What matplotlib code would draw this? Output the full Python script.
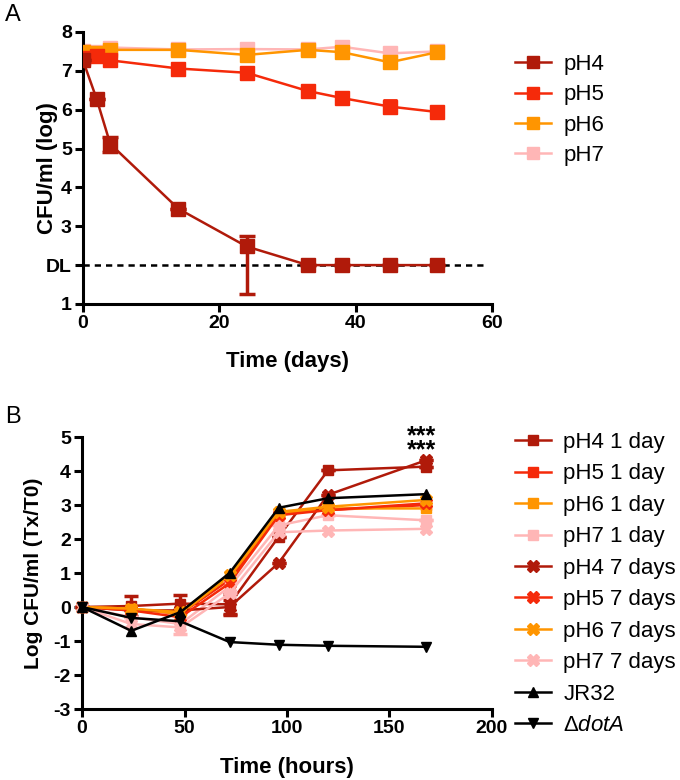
import numpy as np
import matplotlib
matplotlib.use('Agg')
import matplotlib.pyplot as plt
from matplotlib.lines import Line2D

plt.rcParams['font.family'] = ['Liberation Sans', 'DejaVu Sans']
plt.rcParams['mathtext.fontset'] = 'custom'
plt.rcParams['mathtext.rm'] = 'Liberation Sans'
plt.rcParams['mathtext.it'] = 'Liberation Sans:italic'

# Panel A data: survival at different pH over days
days = [0, 2, 4, 14, 24, 33, 38, 45, 52]
ph4_a = [7.27, 6.28, 5.12, 3.45, 2.48, 2.0, 2.0, 2.0, 2.0]
ph4_a_err_lo = [0, 0, 0.22, 0, 1.23, 0, 0, 0, 0]
ph4_a_err_hi = [0, 0, 0.18, 0, 0.28, 0, 0, 0, 0]
ph5_a = [7.32, 7.37, 7.27, 7.06, 6.95, 6.48, 6.30, 6.08, 5.94]
ph5_a_err = [0, 0, 0, 0, 0, 0, 0, 0.16, 0]
ph6_a = [7.49, 7.46, 7.54, 7.54, 7.41, 7.54, 7.48, 7.22, 7.48]
ph7_a = [7.50, 7.48, 7.60, 7.55, 7.56, 7.55, 7.62, 7.45, 7.50]
detection_limit = 2.0

# Panel B data: intracellular growth after pH exposure
hours = [0, 24, 48, 72, 96, 120, 168]
ph4_1d = [0, 0.03, 0.1, 0.08, 2.07, 4.02, 4.13]
ph4_1d_err = [0, 0.3, 0.25, 0.3, 0, 0, 0]
ph5_1d = [0, -0.05, -0.2, 0.8, 2.75, 2.85, 3.0]
ph6_1d = [0, -0.05, -0.2, 0.9, 2.75, 2.9, 2.9]
ph7_1d = [0, -0.3, -0.5, 0.6, 2.4, 2.7, 2.55]
ph7_1d_err = [0, 0, 0.3, 0.2, 0, 0, 0]
ph4_7d = [0, -0.1, -0.1, 0.0, 1.3, 3.3, 4.32]
ph4_7d_err = [0, 0, 0, 0.2, 0, 0, 0]
ph5_7d = [0, -0.1, -0.3, 0.7, 2.7, 2.85, 3.05]
ph6_7d = [0, -0.05, -0.15, 0.95, 2.8, 2.95, 3.15]
ph7_7d = [0, -0.5, -0.6, 0.4, 2.2, 2.25, 2.3]
jr32 = [0, -0.7, -0.15, 1.0, 2.92, 3.2, 3.32]
dota = [0, -0.32, -0.42, -1.03, -1.11, -1.14, -1.17]

c4 = '#B01A0A'
c5 = '#F52A0A'
c6 = '#FF9500'
c7 = '#FFB6B6'

fig = plt.figure(figsize=(6.8, 7.8), dpi=100)
ax1 = fig.add_axes([0.122, 0.6103, 0.6015, 0.3487])
ax2 = fig.add_axes([0.1206, 0.091, 0.6029, 0.3487])


def style_axis(ax):
    for s in ['top', 'right']:
        ax.spines[s].set_visible(False)
    for s in ['left', 'bottom']:
        ax.spines[s].set_linewidth(2.2)
    ax.tick_params(width=2.2, length=6, pad=2)


def leg_handle(col, mk, m):
    return Line2D([], [], color=col, marker=mk, ms=m, lw=1.8)


# Panel A
lw = 1.8
ms = 10
ax1.plot([0, 59], [detection_limit, detection_limit], color='black', ls=(0, (2.5, 2)),
         lw=1.8, zorder=1)
ax1.plot(days, ph7_a, color=c7, marker='s', ms=ms, lw=lw, zorder=2)
ax1.plot(days, ph6_a, color=c6, marker='s', ms=ms, lw=lw, zorder=3)
ax1.errorbar(days, ph5_a, yerr=ph5_a_err, color=c5, marker='s', ms=ms, lw=lw,
             capsize=5, capthick=2, elinewidth=2, zorder=4)
ax1.errorbar(days, ph4_a, yerr=[ph4_a_err_lo, ph4_a_err_hi], color=c4, marker='s', ms=ms,
             lw=lw, capsize=6, capthick=2.5, elinewidth=2.5, zorder=5)
ax1.set_xlim(0, 60)
ax1.set_ylim(1, 8)
ax1.set_xticks([0, 20, 40, 60], ['0', '20', '40', '60'], fontsize=14, fontweight='bold')
ax1.set_yticks([1, 2, 3, 4, 5, 6, 7, 8], ['1', 'DL', '3', '4', '5', '6', '7', '8'],
               fontsize=14, fontweight='bold')
ax1.set_xlabel('Time (days)', fontsize=16, fontweight='bold')
ax1.set_ylabel('CFU/ml (log)', fontsize=16, fontweight='bold')
ax1.yaxis.set_label_coords(-0.062, 0.5)
ax1.xaxis.set_label_coords(0.5, -0.172)
style_axis(ax1)
leg_a = [leg_handle(c, 's', 8) for c in [c4, c5, c6, c7]]
fig.legend(leg_a, ['pH4', 'pH5', 'pH6', 'pH7'], loc='upper left',
           bbox_to_anchor=(0.745, 0.942), frameon=False, fontsize=16,
           handlelength=1.6, handletextpad=0.55, labelspacing=0.42, borderaxespad=0)

# Panel B
lwb = 1.8
msb = 7
series_b = [
    (ph4_1d, ph4_1d_err, c4, 's', 'pH4 1 day'),
    (ph5_1d, None, c5, 's', 'pH5 1 day'),
    (ph6_1d, None, c6, 's', 'pH6 1 day'),
    (ph7_1d, ph7_1d_err, c7, 's', 'pH7 1 day'),
    (ph4_7d, ph4_7d_err, c4, 'X', 'pH4 7 days'),
    (ph5_7d, None, c5, 'X', 'pH5 7 days'),
    (ph6_7d, None, c6, 'X', 'pH6 7 days'),
    (ph7_7d, None, c7, 'X', 'pH7 7 days'),
]
draw_order = [7, 3, 5, 1, 6, 2, 4, 0]
for i in draw_order:
    vals, err, col, mk, lab = series_b[i]
    m = 9 if mk == 'X' else msb
    if err is not None:
        ax2.errorbar(hours, vals, yerr=err, color=col, marker=mk, ms=m, lw=lwb,
                     capsize=5, capthick=2.5, elinewidth=2.5, zorder=2 + i)
    else:
        ax2.plot(hours, vals, color=col, marker=mk, ms=m, lw=lwb, zorder=2 + i)
ax2.plot(hours, jr32, color='black', marker='^', ms=msb, lw=lwb, zorder=12)
ax2.plot(hours, dota, color='black', marker='v', ms=msb, lw=lwb, zorder=12)

handles = [leg_handle(s[2], s[3], 9 if s[3] == 'X' else msb) for s in series_b]
handles += [leg_handle('black', '^', msb), leg_handle('black', 'v', msb)]
labels = [s[4] for s in series_b] + ['JR32', r'$\Delta$$\it{dotA}$']

ax2.text(165.5, 4.82, '***\n***', fontsize=18, fontweight='bold', ha='center', va='center',
         linespacing=0.5, clip_on=False)

ax2.set_xlim(0, 200)
ax2.set_ylim(-3, 5)
ax2.set_xticks([0, 50, 100, 150, 200], ['0', '50', '100', '150', '200'],
               fontsize=14, fontweight='bold')
yt = np.arange(-3, 6, 1)
ax2.set_yticks(yt, [str(v) for v in yt], fontsize=14, fontweight='bold')
ax2.set_xlabel('Time (hours)', fontsize=16, fontweight='bold')
ax2.set_ylabel('Log CFU/ml (Tx/T0)', fontsize=15, fontweight='bold')
ax2.yaxis.set_label_coords(-0.095, 0.5)
ax2.xaxis.set_label_coords(0.5, -0.175)
style_axis(ax2)
for ln in ax2.lines:
    ln.set_clip_on(False)
fig.legend(handles, labels, loc='upper left', bbox_to_anchor=(0.745, 0.4575),
           frameon=False, fontsize=16, handlelength=1.6, handletextpad=0.55,
           labelspacing=0.47, borderaxespad=0)

fig.text(0.008, 0.981, 'A', fontsize=17, va='center')
fig.text(0.008, 0.465, 'B', fontsize=17, va='center')

fig.savefig('out.png', dpi=100)
